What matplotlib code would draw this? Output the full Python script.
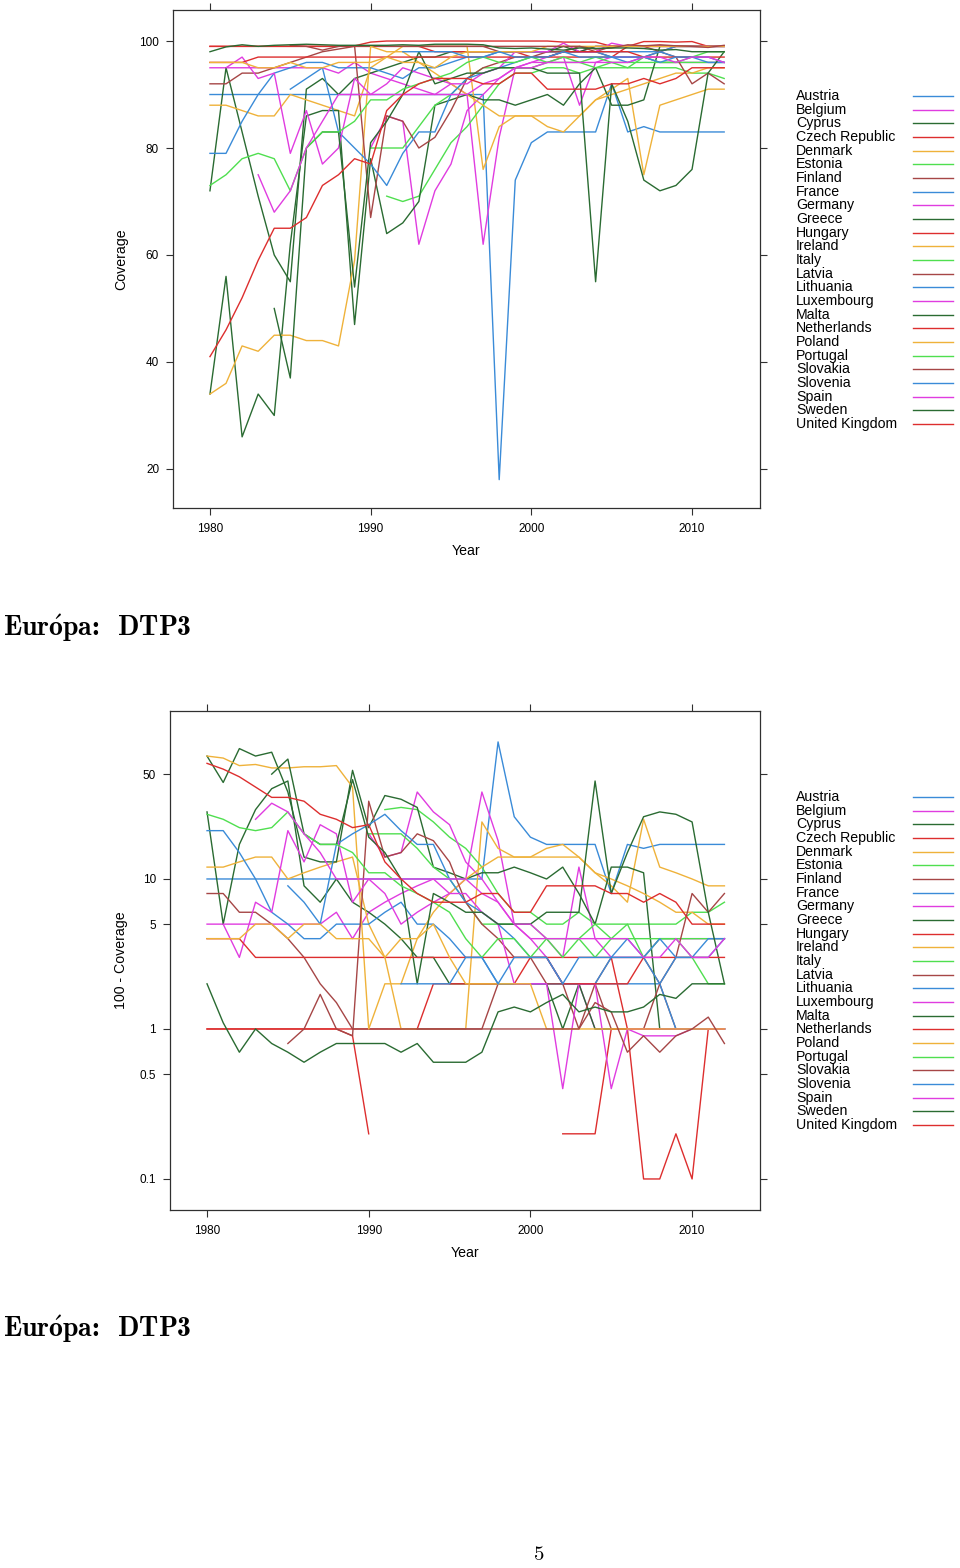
"""
Cobertura DTP3 - paises europeus (1980-2012)
Painel de cima: cobertura; painel de baixo: 100 - cobertura (escala log)
"""

import numpy as np
import matplotlib
matplotlib.use("Agg")
import matplotlib.pyplot as plt
from matplotlib.lines import Line2D


# ==================== DADOS ====================
years = list(range(1980, 2013))

austria = [90, 90, 90, 90, 90, 90, 90, 90, 90, 90, 90, 90, 90, 90, 90, 90, 90,
           90, 18, 74, 81, 83, 83, 83, 83, 92, 83, 84, 83, 83, 83, 83, 83]
belgium = [95, 95, 95, 95, 95, 95, 95, 95, 94, 96, 94, 93, 92, 91, 90, 92, 90,
           62, 82, 95, 96, 97, 98, 98, 99, 99, 99, 99.1, 99.1, 99.1, 99, 99, 99]
cyprus = [72, 95, 83, 71, 60, 55, 91, 93, 90, 93, 94, 95, 96, 97, 97, 98, 98,
          98, 98, 98, 98, 98, 99, 98, 99, 99, 99, 99, 99, 99, 99, 99, 99]
czech = [99, 99, 99, 99, 99, 99, 99, 99, 99, 99, 99, 99, 99, 99, 98, 98, 98,
         98, 98, 98, 97, 97, 97, 97, 97, 97, 99, 99, 99, 99, 99, 99, 99]
denmark = [88, 88, 87, 86, 86, 90, 89, 88, 87, 86, 95, 97, 99, 99, 99, 99, 99,
           76, 84, 86, 86, 84, 83, 86, 89, 91, 93, 75, 88, 89, 90, 91, 91]
estonia = [None, None, None, None, None, None, None, None, None, None, None,
           71, 70, 71, 76, 81, 84, 88, 92, 94, 94, 95, 95, 94, 95, 96, 95, 95,
           95, 95, 94, 94, 93]
finland = [92, 92, 94, 94, 95, 96, 97, 98, 98.5, 99, 99, 99, 99, 99, 99, 99,
           99, 99, 98, 98, 98, 98, 98, 99, 98, 97, 97, 97, 98, 99, 99, 99, 99]
france = [79, 79, 85, 90, 94, 95, 96, 96, 95, 95, 95, 94, 93, 95, 95, 96, 97,
          97, 98, 98, 98, 98, 98, 98, 98, 98, 98, 98, 98, 99, 99, 99, 99]
germany = [None, None, None, None, None, None, None, None, None, None, 80, 86,
           85, 62, 72, 77, 87, 90, 93, 95, 96, 96, 97, 88, 96, 97, 97, 97, 96,
           96, 96, 96, 96]
greece = [34, 56, 26, 34, 30, 62, 86, 87, 87, 47, 78, 64, 66, 70, 88, 89, 90,
          89, 89, 88, 89, 90, 88, 92, 95, 88, 88, 89, 99, 99, 99, 99, 99]
hungary = [99, 99, 99, 99, 99, 99, 99, 99, 99, 99.1, 99.8, 100, 100, 100, 100,
           100, 100, 100, 100, 100, 100, 100, 99.8, 99.8, 99.8, 99, 99, 99.9,
           99.9, 99.8, 99.9, 99, 99]
ireland = [34, 36, 43, 42, 45, 45, 44, 44, 43, 59, 99, 98, 98, 96, 94, 92, 90,
           88, 86, 86, 86, 86, 86, 86, 89, 90, 91, 92, 93, 94, 94, 95, 95]
italy = [None, None, None, None, None, None, None, None, None, None, 80, 80,
         80, 84, 88, 90, 93, 95, 95, 95, 95, 96, 96, 96, 97, 96, 96, 96, 96,
         96, 96, 96, 96]
latvia = [None, None, None, None, None, 99.2, 99, 98.3, 99, 99.1, 67, 86, 85,
          80, 82, 87, 93, 95, 96, 97, 97, 98, 98, 98, 98, 99, 99, 99, 98, 97,
          92, 94, 92]
lithuania = [None, None, None, None, None, 91, 93, 95, 83, 80, 77, 73, 79, 83,
             83, 90, 93, 94, 95, 96, 97, 97, 98, 98, 98, 97, 96, 97, 98, 97,
             97, 96, 96]
luxembourg = [None, 95, 97, 93, 94, 79, 87, 77, 80, 93, 90, 92, 95, 94, 93,
              92, 92, 94, 95, 98, 98, 98, 99.6, 98, 98, 99.6, 99, 99, 99, 99,
              99, 99, 99]
malta = [None, None, None, None, 50, 37, 80, 83, 83, 54, 81, 85, 90, 98, 92,
         93, 94, 94, 95, 95, 95, 94, 94, 94, 55, 92, 85, 74, 72, 73, 76, 94,
         98]
netherlands = [96, 96, 96, 97, 97, 97, 97, 97, 97, 97, 97, 97, 97, 97, 97, 97,
               97, 97, 97, 97, 97, 97, 98, 98, 98, 98, 98, 97, 97, 97, 97, 97,
               97]
poland = [96, 96, 96, 95, 95, 96, 95, 95, 96, 96, 96, 97, 96, 96, 95, 97, 98,
          98, 98, 98, 98, 99, 99, 99, 99, 99, 99, 99, 99, 99, 99, 99, 99]
portugal = [73, 75, 78, 79, 78, 72, 80, 83, 83, 85, 89, 89, 91, 92, 93, 94, 96,
            97, 96, 96, 97, 96, 97, 96, 95, 95, 95, 97, 96, 96, 97, 98, 98]
slovakia = [None, None, None, None, None, None, None, None, None, None, None,
            None, None, 99, 99, 99, 99, 99, 99, 99, 99, 99, 99, 99, 98.5, 98.7,
            99.3, 99.1, 99.3, 99.1, 99, 98.8, 99.2]
slovenia = [None, None, None, None, None, None, None, None, None, None, None,
            None, 98, 98, 98, 98, 97, 97, 98, 97, 97, 97, 98, 97, 97, 97, 97,
            97, 96, 97, 97, 97, 96]
spain = [None, None, None, 75, 68, 72, 80, 85, 90, 90, 90, 90, 90, 90, 90, 90,
         90, 92, 93, 95, 95, 96, 96, 96, 96, 96, 96, 97, 97, 96, 97, 97, 96]
sweden = [98, 98.9, 99.3, 99, 99.2, 99.3, 99.4, 99.3, 99.2, 99.2, 99.2, 99.2,
          99.3, 99.2, 99.4, 99.4, 99.4, 99.3, 98.7, 98.6, 98.7, 98.5, 98.3,
          98.7, 98.6, 98.7, 98.7, 98.6, 98.3, 98.4, 98, 98, 98]
uk = [41, 46, 52, 59, 65, 65, 67, 73, 75, 78, 77, 87, 90, 92, 93, 93, 93, 92,
      92, 94, 94, 91, 91, 91, 91, 92, 92, 93, 92, 93, 95, 95, 95]

countries = ["Austria", "Belgium", "Cyprus", "Czech Republic", "Denmark",
             "Estonia", "Finland", "France", "Germany", "Greece", "Hungary",
             "Ireland", "Italy", "Latvia", "Lithuania", "Luxembourg", "Malta",
             "Netherlands", "Poland", "Portugal", "Slovakia", "Slovenia",
             "Spain", "Sweden", "United Kingdom"]
series = [austria, belgium, cyprus, czech, denmark, estonia, finland, france,
          germany, greece, hungary, ireland, italy, latvia, lithuania,
          luxembourg, malta, netherlands, poland, portugal, slovakia,
          slovenia, spain, sweden, uk]

# cores padrao do lattice (superpose.line)
palette = ["#3a8bd8", "#e03ce0", "#2a6b32", "#dd2e2e", "#efb23a", "#4fdf4f",
           "#a64646"]

W, H = 960, 1568
FONT = ["Liberation Sans", "DejaVu Sans"]
plt.rcParams["font.family"] = FONT
plt.rcParams["mathtext.fontset"] = "cm"


def px_x(x):
    return x / W


def px_y(y):
    return 1 - y / H


def style_axes(ax):
    for sp in ax.spines.values():
        sp.set_color("#303030")
        sp.set_linewidth(0.9)
    ax.tick_params(direction="out", length=5, width=0.8, color="#303030",
                   top=True, right=True, labeltop=False, labelright=False,
                   labelsize=8.5, pad=5)
    ax.tick_params(axis="x", pad=6)
    ax.set_xticks([1980, 1990, 2000, 2010])
    ax.set_xticklabels(["1980", "1990", "2000", "2010"])
    ax.set_xlabel("Year", fontsize=10.2, labelpad=6)


def draw_key(top_y):
    step = 13.67
    for i, name in enumerate(countries):
        y = top_y + i * step
        fig.text(px_x(796), px_y(y), name, fontsize=10.2, va="center",
                 ha="left")
        fig.add_artist(Line2D([px_x(913), px_x(953)], [px_y(y), px_y(y)],
                              color=palette[i % 7], lw=1.0))


fig = plt.figure(figsize=(W / 100, H / 100), dpi=100)

# ---------- painel 1: cobertura ----------
ax1 = fig.add_axes([px_x(173), px_y(508), px_x(760 - 173), (508 - 10) / H])
for i, vals in enumerate(series):
    v = np.array(vals, dtype=float)
    ax1.plot(years, v, color=palette[i % 7], lw=1.0)
ax1.set_xlim(1977.7, 2014.23)
ax1.set_ylim(12.7, 105.8)
ax1.set_yticks([20, 40, 60, 80, 100])
ax1.set_yticklabels(["20", "40", "60", "80", "100"])
ax1.set_ylabel("Coverage", fontsize=10.2, labelpad=8)
style_axes(ax1)
draw_key(96)

# ---------- painel 2: 100 - cobertura (log) ----------
ax2 = fig.add_axes([px_x(170), px_y(1210), px_x(760 - 170), (1210 - 711) / H])
for i, vals in enumerate(series):
    v = 100 - np.array(vals, dtype=float)
    v[v <= 0] = np.nan
    ax2.plot(years, v, color=palette[i % 7], lw=1.0)
ax2.set_yscale("log")
ax2.set_xlim(1977.71, 2014.2)
ax2.set_ylim(0.0621, 131.8)
ax2.set_yticks([0.1, 0.5, 1, 5, 10, 50])
ax2.set_yticklabels(["0.1", "0.5", "1", "5", "10", "50"])
ax2.minorticks_off()
ax2.set_ylabel("100 - Coverage", fontsize=10.2, labelpad=8)
style_axes(ax2)
draw_key(797)

# ---------- textos da pagina ----------
# "o" com acento agudo via mathtext (cmb10 nao tem o glifo)
titulo = r"$\mathbf{Eur\acute{o}pa}$:  DTP3"
for y in (628, 1329):
    fig.text(px_x(3), px_y(y), titulo, fontsize=20, family=["cmb10"],
             va="center", ha="left")
fig.text(px_x(539), px_y(1555), "5", fontsize=15, family=["cmr10",
         "DejaVu Serif"], va="center", ha="center")

fig.savefig("out.png", dpi=100)
